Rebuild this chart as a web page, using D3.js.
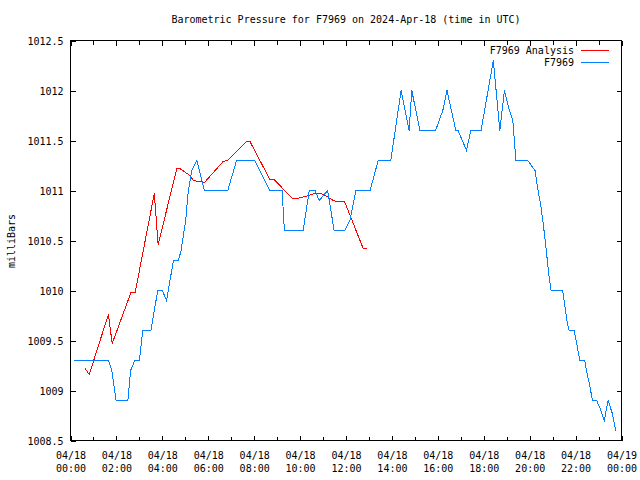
<!DOCTYPE html>
<html>
<head>
<meta charset="utf-8">
<script src="https://cdn.jsdelivr.net/npm/d3@7"></script>
<style>
  html, body { margin: 0; padding: 0; background: #fff; }
  svg { display: block; }
  text { font-family: "DejaVu Sans Mono", "Liberation Mono", monospace; font-size: 10px; fill: #000; }
</style>
</head>
<body>
<svg id="chart" width="640" height="480"></svg>
<script>
// ---- data ----
const chartTitle = "Barometric Pressure for F7969 on 2024-Apr-18 (time in UTC)";
const yAxisLabel = "milliBars";
const seriesNames = ["F7969 Analysis", "F7969"];

const analysisTimes = ["00:38","00:49","01:39","01:49","02:38","02:49","03:39","03:49","04:38","04:46",
  "05:12","05:21","05:50","06:39","06:51","07:40","07:49","08:41","08:52","09:40","09:51","10:04",
  "10:39","10:54","11:10","11:27","11:37","11:56","12:45","12:56"];
const analysisValues = [1009.22,1009.16,1009.76,1009.47,1009.98,1009.98,1010.97,1010.46,1011.22,1011.22,
  1011.15,1011.10,1011.08,1011.29,1011.30,1011.49,1011.49,1011.11,1011.11,1010.92,1010.92,1010.93,
  1010.97,1010.97,1010.94,1010.90,1010.89,1010.89,1010.42,1010.42];

const stationTimes = ["00:09","01:39","01:48","01:59","02:30","02:37","02:48","03:00","03:09","03:30",
  "03:48","04:00","04:11","04:29","04:42","04:49","05:01","05:08","05:17","05:30","05:50","06:51",
  "07:14","08:02","08:41","09:13","09:19","10:08","10:24","10:39","10:50","11:12","11:29","11:57",
  "12:10","12:26","13:03","13:24","13:57","14:24","14:45","14:52","15:13","15:54","16:13","16:24",
  "16:47","16:53","17:15","17:26","17:53","18:25","18:42","18:54","19:07","19:16","19:24","19:55",
  "20:14","20:22","20:29","20:36","20:42","20:47","20:51","20:56","21:26","21:32","21:38","21:43",
  "21:56","22:03","22:11","22:24","22:30","22:38","22:44","22:55","23:04","23:15","23:25","23:36","23:45"];
const stationValues = [1009.3,1009.3,1009.2,1008.9,1008.9,1009.2,1009.3,1009.3,1009.6,1009.6,
  1010.0,1010.0,1009.9,1010.3,1010.3,1010.4,1010.7,1011.0,1011.2,1011.3,1011.0,1011.0,
  1011.3,1011.3,1011.0,1011.0,1010.6,1010.6,1011.0,1011.0,1010.9,1011.0,1010.6,1010.6,
  1010.7,1011.0,1011.0,1011.3,1011.3,1012.0,1011.6,1012.0,1011.6,1011.6,1011.8,1012.0,
  1011.6,1011.6,1011.4,1011.6,1011.6,1012.3,1011.6,1012.0,1011.8,1011.7,1011.3,1011.3,
  1011.2,1011.0,1010.85,1010.65,1010.45,1010.27,1010.13,1010.0,1010.0,1009.85,1009.68,1009.6,
  1009.6,1009.47,1009.3,1009.3,1009.17,1009.03,1008.9,1008.9,1008.82,1008.7,1008.9,1008.77,1008.6];

const yTicks = [1008.5,1009,1009.5,1010,1010.5,1011,1011.5,1012,1012.5];
const xMajorHours = [0,2,4,6,8,10,12,14,16,18,20,22,24];
const xMinorHours = [1,3,5,7,9,11,13,15,17,19,21,23];
const xTickDates = ["04/18","04/18","04/18","04/18","04/18","04/18","04/18","04/18","04/18","04/18","04/18","04/18","04/19"];
const xTickTimes = ["00:00","02:00","04:00","06:00","08:00","10:00","12:00","14:00","16:00","18:00","20:00","22:00","00:00"];
const colors = ["#ff0000", "#0080ff"];

// ---- chart ----
const toMin = s => { const [h, m] = s.split(":").map(Number); return h * 60 + m; };
const L = 70.5, R = 621.5, T = 40.5, B = 440.5;
const svg = d3.select("#chart");
const x = d3.scaleLinear().domain([0, 1440]).range([L, R]);
const y = d3.scaleLinear().domain([1008.5, 1012.5]).range([B, T]);

function styleAxis(g) {
  g.selectAll(".domain").remove();
  g.selectAll("line").attr("stroke", "#000").attr("shape-rendering", "crispEdges");
  g.attr("font-family", null).attr("font-size", null);
}

// left axis with labels
svg.append("g").attr("transform", `translate(${L},0)`)
  .call(d3.axisLeft(y).tickValues(yTicks).tickSizeInner(-5).tickSizeOuter(0).tickPadding(7)
    .tickFormat(d => d3.format("")(d)))
  .call(styleAxis)
  .selectAll("text").attr("dy", "0.36em");
// right mirror ticks
svg.append("g").attr("transform", `translate(${R},0)`)
  .call(d3.axisRight(y).tickValues(yTicks.slice(1, -1)).tickSizeInner(-5).tickSizeOuter(0).tickFormat(""))
  .call(styleAxis);

// bottom axis
const xb = svg.append("g").attr("transform", `translate(0,${B})`)
  .call(d3.axisBottom(x).tickValues(xMajorHours.map(h => h * 60)).tickSizeInner(-5).tickSizeOuter(0).tickFormat(""))
  .call(styleAxis);
xb.selectAll(".tick text").each(function(d, i) {
  const t = d3.select(this).attr("y", null).attr("dy", null);
  t.append("tspan").attr("x", 0).attr("y", 18).text(xTickDates[i]);
  t.append("tspan").attr("x", 0).attr("y", 31).text(xTickTimes[i]);
});
svg.append("g").attr("transform", `translate(0,${B})`)
  .call(d3.axisBottom(x).tickValues(xMinorHours.map(h => h * 60)).tickSizeInner(-4).tickSizeOuter(0).tickFormat(""))
  .call(styleAxis);
// top mirror ticks
svg.append("g").attr("transform", `translate(0,${T})`)
  .call(d3.axisTop(x).tickValues(xMajorHours.map(h => h * 60)).tickSizeInner(-5).tickSizeOuter(0).tickFormat(""))
  .call(styleAxis);
svg.append("g").attr("transform", `translate(0,${T})`)
  .call(d3.axisTop(x).tickValues(xMinorHours.map(h => h * 60)).tickSizeInner(-4).tickSizeOuter(0).tickFormat(""))
  .call(styleAxis);

// frame
svg.append("rect").attr("x", L).attr("y", T).attr("width", R - L).attr("height", B - T)
  .attr("fill", "none").attr("stroke", "#000").attr("stroke-width", 1).attr("shape-rendering", "crispEdges");

// lines
const line = d3.line().x(d => x(d[0])).y(d => y(d[1]));
const analysis = analysisTimes.map((t, i) => [toMin(t), analysisValues[i]]);
const station = stationTimes.map((t, i) => [toMin(t), stationValues[i]]);
svg.append("path").datum(analysis).attr("d", line).attr("fill", "none")
  .attr("stroke", colors[0]).attr("stroke-width", 1).attr("shape-rendering", "crispEdges");
svg.append("path").datum(station).attr("d", line).attr("fill", "none")
  .attr("stroke", colors[1]).attr("stroke-width", 1).attr("shape-rendering", "crispEdges");

// title
svg.append("text").attr("x", (L + R) / 2).attr("y", 23).attr("text-anchor", "middle").text(chartTitle);
// y label
svg.append("text").attr("transform", `translate(15,241) rotate(-90)`).attr("text-anchor", "middle").text(yAxisLabel);

// legend
seriesNames.forEach((name, i) => {
  const ly = 50 + i * 12;
  svg.append("text").attr("x", 574).attr("y", ly).attr("dy", "0.36em").attr("text-anchor", "end").text(name);
  svg.append("line").attr("x1", 581).attr("x2", 609).attr("y1", ly + 0.5).attr("y2", ly + 0.5)
    .attr("stroke", colors[i]).attr("stroke-width", 1).attr("shape-rendering", "crispEdges");
});
</script>
</body>
</html>
